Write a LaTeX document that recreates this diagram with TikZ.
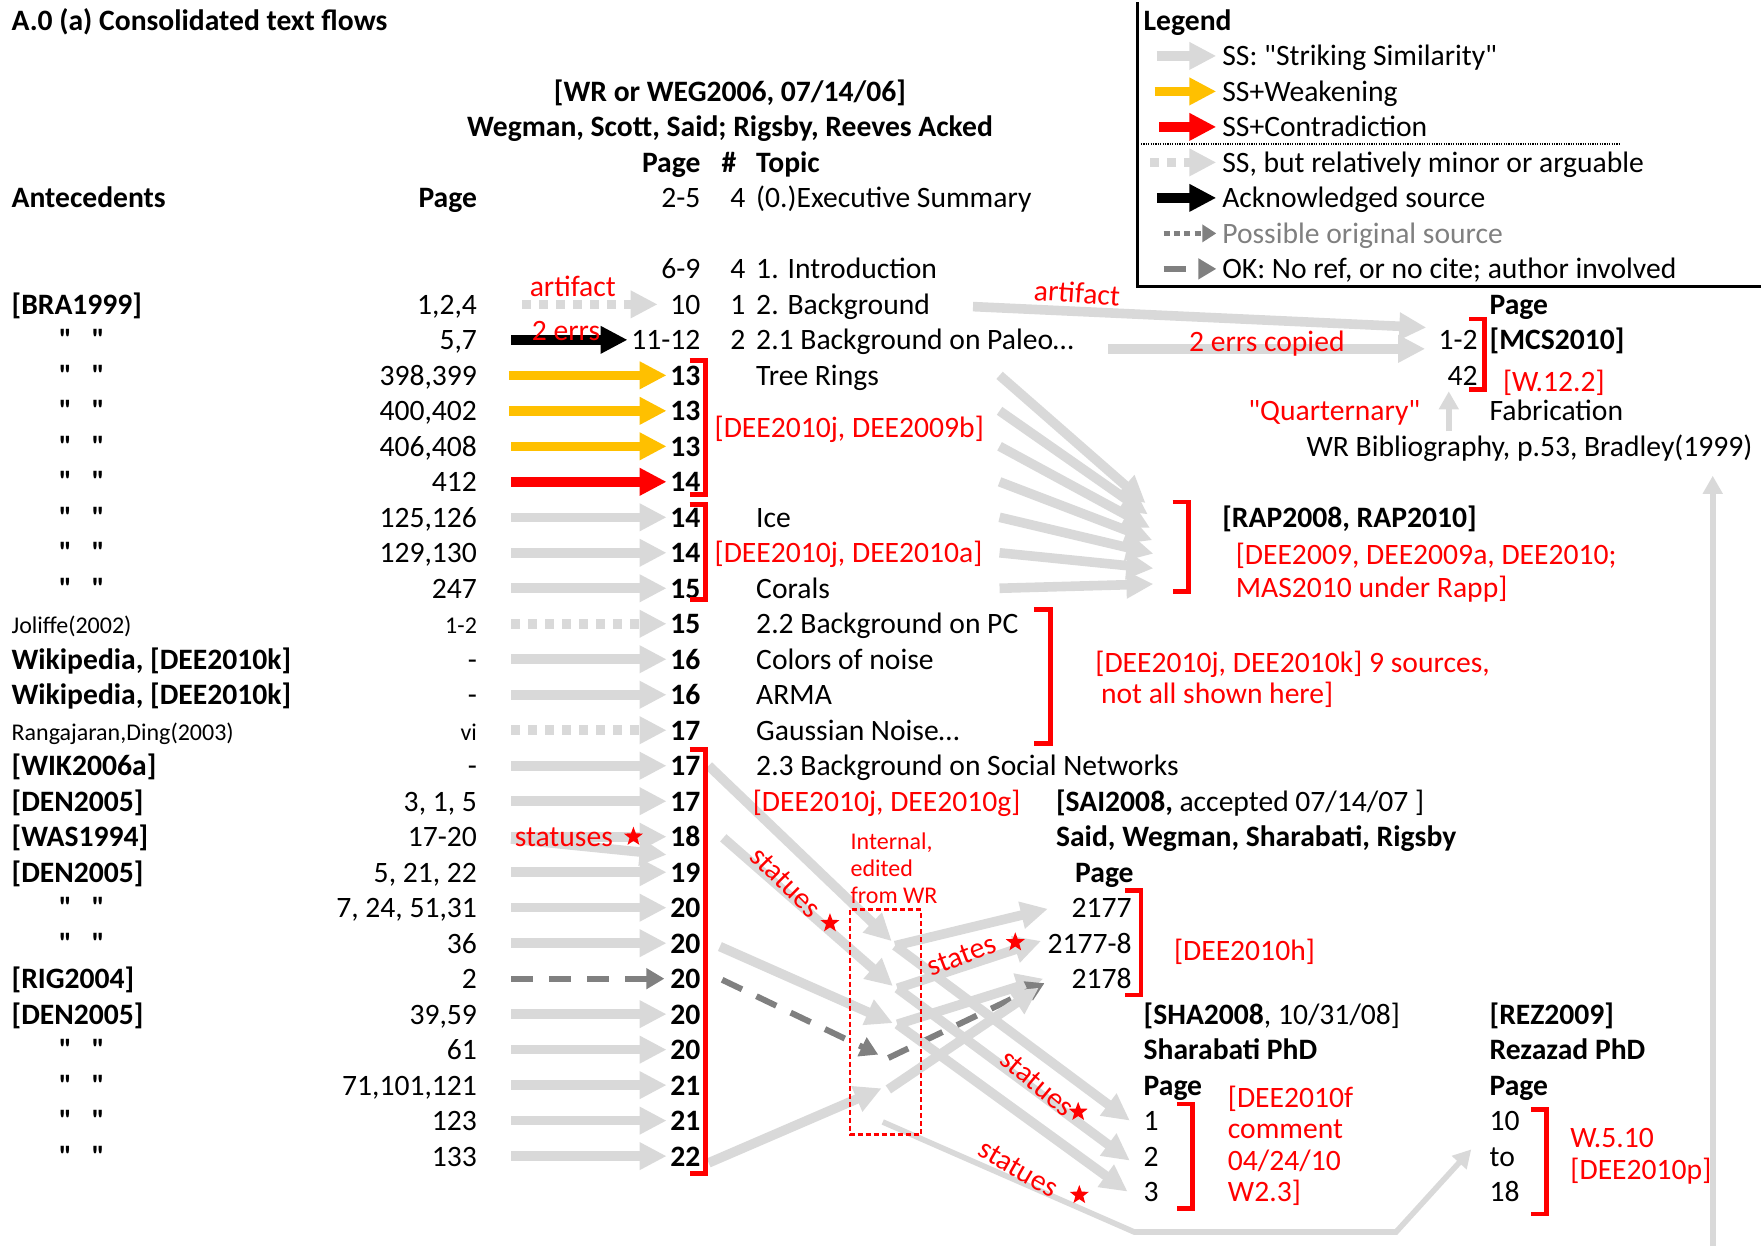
\documentclass[tikz,border=0pt]{standalone}
\usepackage{fontspec}
\setmainfont{Carlito}[Ligatures=TeXOff]
\usetikzlibrary{arrows.meta,calc,shapes.geometric}
\definecolor{ssgray}{HTML}{D9D9D9}
\definecolor{weakorange}{HTML}{FFC000}
\definecolor{okgray}{HTML}{808080}
\newcommand\ry[1]{271+31.6*(#1)}
\newcommand\smallfont{\fontsize{12}{14.4}\selectfont}
\newcommand\redbrk[3]{\draw[brk] ({#1-14},#2) -- (#1,#2) -- (#1,#3) -- ({#1-14},#3);}
\tikzset{
  txt/.style={inner sep=0pt,text height=1.8ex,text depth=0.4ex},
  lft/.style={txt,anchor=west},
  rgt/.style={txt,anchor=east},
  note/.style={txt,text=red},
  fat/.style={line width=4.8pt,-{Triangle[length=13.5pt,width=13pt]}},
  ss/.style={fat,ssgray},
  weak/.style={fat,weakorange},
  contra/.style={fat,red},
  ack/.style={fat,black},
  minor/.style={fat,ssgray,dash pattern=on 4.5pt off 4pt},
  okdash/.style={line width=3pt,okgray,dash pattern=on 11pt off 8pt,-{Triangle[length=9pt,width=10pt]}},
  possible/.style={line width=2.6pt,okgray,dash pattern=on 3pt off 2.2pt,-{Triangle[length=7pt,width=8.5pt]}},
  thinss/.style={line width=2.8pt,ssgray,-{Triangle[length=9pt,width=9.5pt]}},
  brk/.style={draw=red,line width=2.4pt},
  rstar/.style={star,star points=5,star point ratio=2.4,fill=red,inner sep=0pt,minimum size=10pt},
}
\begin{document}
\begin{tikzpicture}[x=0.5615pt,y=-0.5615pt]
\fontsize{14.8}{17.8}\selectfont
\useasboundingbox (0,0) rectangle (1568,1109);
% headings
\node[lft,font=\bfseries] (title) at (10,{\ry{-8}}) {A.0 (a) Consolidated text flows};
\node[txt,font=\bfseries] (wr) at (650,{\ry{-6}}) {[WR or WEG2006, 07/14/06]};
\node[txt,font=\bfseries] (acked) at (650,{\ry{-5}}) {Wegman, Scott, Said; Rigsby, Reeves Acked};
\node[rgt,font=\bfseries] (pgh) at (624,{\ry{-4}}) {Page};
\node[txt,font=\bfseries] (nh) at (649,{\ry{-4}}) {\#};
\node[lft,font=\bfseries] (toph) at (673,{\ry{-4}}) {Topic};
\node[lft,font=\bfseries] (anteh) at (10,{\ry{-3}}) {Antecedents};
\node[rgt,font=\bfseries] (antepg) at (425,{\ry{-3}}) {Page};
\node[rgt] (pes) at (624,{\ry{-3}}) {2-5};
\node[txt] (nes) at (657,{\ry{-3}}) {4};
\node[lft] (tes) at (673,{\ry{-3}}) {(0.)Executive Summary};
\node[rgt] (pin) at (624,{\ry{-1}}) {6-9};
\node[txt] (nin) at (657,{\ry{-1}}) {4};
\node[lft] (tin) at (673,{\ry{-1}}) {1. Introduction};
\node[txt] (n0) at (657,{\ry{0}}) {1};
\node[txt] (n1) at (657,{\ry{1}}) {2};
\foreach \i/\t in {0/2. Background,1/2.1 Background on Paleo…,2/Tree Rings,6/Ice,8/Corals,9/2.2 Background on PC,10/Colors of noise,11/ARMA,12/Gaussian Noise…,13/2.3 Background on Social Networks}
  \node[lft] (t\i) at (673,{\ry{\i}}) {\t};
% antecedents
\foreach \i/\t in {0/{[BRA1999]},10/{Wikipedia, [DEE2010k]},11/{Wikipedia, [DEE2010k]},13/{[WIK2006a]},14/{[DEN2005]},15/{[WAS1994]},16/{[DEN2005]},19/{[RIG2004]},20/{[DEN2005]}}
  \node[lft,font=\bfseries] (s\i) at (10,{\ry{\i}}) {\t};
\node[lft,font=\smallfont] (s9) at (10,{\ry{9}}) {Joliffe(2002)};
\node[lft,font=\smallfont] (s12) at (10,{\ry{12}}) {Rangajaran,Ding(2003)};
\foreach \i in {1,...,8,17,18,21,22,23,24}
  \node[lft,font=\bfseries] (d\i) at (52,{\ry{\i}}) {"\hspace{10pt}"};
\foreach \t [count=\i from 0] in {{1,2,4},{5,7},{398,399},{400,402},{406,408},412,{125,126},{129,130},247,{\smallfont 1-2},-,-,{\smallfont vi},-,{3, 1, 5},17-20,{5, 21, 22},{7, 24, 51,31},36,2,{39,59},61,{71,101,121},123,133}
  \node[rgt] (a\i) at (425,{\ry{\i}}) {\t};
\foreach \t [count=\i from 0] in {10,11-12,13,13,13,14,14,14,15,15,16,16,17,17,17,18,19,20,20,20,20,20,21,21,22}
  \node[rgt] (p\i) at (624,{\ry{\i}}) {\ifnum\i>1 \bfseries\fi\t};
% MCS2010
\node[lft,font=\bfseries] (mpg) at (1326,{\ry{0}}) {Page};
\node[rgt] (m1) at (1316,{\ry{1}}) {1-2};
\node[lft,font=\bfseries] (mcs) at (1326,{\ry{1}}) {[MCS2010]};
\node[rgt] (m2) at (1316,{\ry{2}}) {42};
\node[lft] (fab) at (1326,{\ry{3}}) {Fabrication};
\node[lft] (bib) at (1163,{\ry{4}}) {WR Bibliography, p.53, Bradley(1999)};
% RAP
\node[lft,font=\bfseries] (rap) at (1088,{\ry{6}}) {[RAP2008, RAP2010]};
% SAI2008
\node[lft] (sai) at (940,{\ry{14}}) {\textbf{[SAI2008,} accepted 07/14/07 ]};
\node[lft,font=\bfseries] (saiau) at (940,{\ry{15}}) {Said, Wegman, Sharabati, Rigsby};
\node[lft,font=\bfseries] (saipg) at (957,{\ry{16}}) {Page};
\node[rgt] (j1) at (1008,{\ry{17}}) {2177};
\node[rgt] (j2) at (1008,{\ry{18}}) {2177-8};
\node[rgt] (j3) at (1008,{\ry{19}}) {2178};
% SHA2008
\node[lft] (sha) at (1018,{\ry{20}}) {\textbf{[SHA2008}, 10/31/08]};
\node[lft,font=\bfseries] (shaau) at (1018,{\ry{21}}) {Sharabati PhD};
\node[lft,font=\bfseries] (shapg) at (1018,{\ry{22}}) {Page};
\node[lft] (h1) at (1018,{\ry{23}}) {1};
\node[lft] (h2) at (1018,{\ry{24}}) {2};
\node[lft] (h3) at (1018,{\ry{25}}) {3};
% REZ2009
\node[lft,font=\bfseries] (rez) at (1326,{\ry{20}}) {[REZ2009]};
\node[lft,font=\bfseries] (rezau) at (1326,{\ry{21}}) {Rezazad PhD};
\node[lft,font=\bfseries] (rezpg) at (1326,{\ry{22}}) {Page};
\node[lft] (r1) at (1326,{\ry{23}}) {10};
\node[lft] (r2) at (1326,{\ry{24}}) {to};
\node[lft] (r3) at (1326,{\ry{25}}) {18};
% legend
\draw[line width=1.3pt] (1013,2) -- (1013,255) -- (1568,255);
\node[lft,font=\bfseries] (legend) at (1018,{\ry{-8}}) {Legend};
\node[lft] (l1) at (1088,{\ry{-7}}) {SS: "Striking Similarity"};
\node[lft] (l2) at (1088,{\ry{-6}}) {SS+Weakening};
\node[lft] (l3) at (1088,{\ry{-5}}) {SS+Contradiction};
\node[lft] (l4) at (1088,{\ry{-4}}) {SS, but relatively minor or arguable};
\node[lft] (l5) at (1088,{\ry{-3}}) {Acknowledged source};
\node[lft,text=okgray] (l6) at (1088,{\ry{-2}}) {Possible original source};
\node[lft] (l7) at (1088,{\ry{-1}}) {OK: No ref, or no cite; author involved};
\draw[line width=1pt,dash pattern=on 0.6pt off 0.6pt] (1016,128) -- (1443,128);
\draw[ss] ($(l1.west)+(-58,0)$) -- ($(l1.west)+(-5,0)$);
\draw[weak] ($(l2.west)+(-60,0)$) -- ($(l2.west)+(-5,0)$);
\draw[contra] ($(l3.west)+(-56,0)$) -- ($(l3.west)+(-5,0)$);
\draw[minor] ($(l4.west)+(-64,0)$) -- ($(l4.west)+(-5,0)$);
\draw[ack] ($(l5.west)+(-58,0)$) -- ($(l5.west)+(-5,0)$);
\draw[possible] ($(l6.west)+(-52,0)$) -- ($(l6.west)+(-5,0)$);
\draw[okdash,dash pattern=on 11pt off 20pt] ($(l7.west)+(-52,0)$) -- ($(l7.west)+(-5,0)$);
% row arrows
\foreach \st/\sx/\gx [count=\i from 0] in {minor/40/11,ack/30/3,weak/28/3,weak/28/3,weak/30/3,contra/30/3,ss/30/3,ss/30/3,ss/30/3,minor/30/3,ss/30/3,ss/30/3,minor/30/3,ss/30/3,ss/30/3,ss/30/3,ss/30/3,ss/30/3,ss/30/3,okdash/30/5,ss/30/3,ss/30/3,ss/30/3,ss/30/3,ss/30/3}
  \draw[\st] ($(a\i.east)+(\sx,0)$) -- ($(p\i.west)+(-\gx,0)$);
\draw[ss] ($(a15.east)+(30,2)$) -- ($(p15.west)+(-3,16)$);
% to MCS2010
\draw[ss] ($(t0.east)+(38,2)$) -- ($(m1.east)+(-46,-11)$);
\draw[ss] ($(t1.east)+(30,8)$) -- ($(m1.east)+(-47,8)$);
\coordinate (bibup) at (1290,384);
\draw[thinss] (bibup) -- (bibup |- m2.south);
\coordinate (bibsrc) at (1525,1109);
\draw[thinss] (bibsrc) -- ($(bibsrc |- bib.south)+(0,12)$);
% fan to RAP
\foreach \i/\tx/\ty in {2/1020/448,3/1022/458,4/1024/470,5/1026/481,6/1027/493,7/1027/506,8/1027/520}
  \draw[ss] (890,{\ry{\i}}) -- (\tx,\ty);
% into the internal box
\coordinate (k1) at (794,838);
\coordinate (k2) at (795,878);
\coordinate (k3) at (795,911);
\coordinate (k4) at (782,939);
\coordinate (k5) at (785,969);
\draw[ss] ($(p13.east)+(7,0)$) -- (k1);
\draw[ss] ($(p15.east)+(20,1)$) -- (k2);
\draw[ss] ($(p18.east)+(17,3)$) -- (k3);
\draw[okdash] ($(p19.east)+(19,1)$) -- (k4);
\draw[ss] ($(p24.east)+(7,6)$) -- (k5);
% out of the internal box
\coordinate (g1) at (797,842);
\coordinate (g2) at (799,880);
\coordinate (g3) at (799,912);
\coordinate (g4) at (791,942);
\coordinate (g5) at (791,970);
\coordinate (g6) at (786,999);
\draw[ss] (g1) -- ($(j1.east)+(-75,1)$);
\draw[ss] (g2) -- ($(j2.east)+(-81,-2)$);
\draw[ss] (g3) -- ($(j3.east)+(-79,0)$);
\draw[okdash] (g4) -- ($(j3.east)+(-78,4)$);
\draw[ss] (g5) -- ($(j3.east)+(-83,8)$);
\draw[ss] (g1) -- ($(h1.west)+(-12,0)$);
\draw[ss] (g2) -- ($(h2.west)+(-12,4)$);
\draw[ss] (g3) -- ($(h3.west)+(-14,0)$);
\coordinate (rzbend1) at (1010,1097);
\coordinate (rzbend2) at (1243,1097);
\draw[thinss] (g6) -- (rzbend1) -- (rzbend2) -- ($(r2.west)+(-16,-6)$);
% brackets
\redbrk{628}{321}{440}
\redbrk{628}{449}{534}
\redbrk{935}{543}{662}
\redbrk{628}{667}{1045}
\redbrk{1322}{284}{347}
\redbrk{1058}{447}{527}
\redbrk{1016}{793}{886}
\redbrk{1062}{983}{1076}
\redbrk{1377}{988}{1081}
\draw[red,line width=1.3pt,dash pattern=on 2.5pt off 1.5pt] (757,810) rectangle (820,1010);
% red notes
\node[note] (art1) at (510,255) {artifact};
\node[note] (errs) at (504,294) {2 errs};
\node[note] (stat0) at (502,{\ry{15}}) {statuses};
\node[rstar] (star0) at (564,{\ry{15}}) {};
\node[note,rotate=-4] (art2) at (959,261) {artifact};
\node[note] (copied) at (1128,304) {2 errs copied};
\node[note,anchor=west] (w122) at (1338,340) {[W.12.2]};
\node[note,anchor=east] (quart) at (1265,{\ry{3}}) {"Quarternary"};
\node[note,anchor=west] (dee1) at (636,381) {[DEE2010j, DEE2009b]};
\node[note,anchor=west] (dee2) at (636,{\ry{7}}) {[DEE2010j, DEE2010a]};
\node[note,anchor=west] (rapn1) at (1100,494) {[DEE2009, DEE2009a, DEE2010;};
\node[note,anchor=west] (rapn2) at (1100,523) {MAS2010 under Rapp]};
\node[note,anchor=west] (dee3) at (975,590) {[DEE2010j, DEE2010k] 9 sources,};
\node[note,anchor=west] (dee3b) at (980,618) {not all shown here]};
\node[note,anchor=west] (dee4) at (670,{\ry{14}}) {[DEE2010j, DEE2010g]};
\node[note,anchor=west,font=\smallfont] (intl1) at (757,748) {Internal,};
\node[note,anchor=west,font=\smallfont] (intl2) at (757,772) {edited};
\node[note,anchor=west,font=\smallfont] (intl3) at (757,796) {from WR};
\node[note,anchor=west] (deeh) at (1045,846) {[DEE2010h]};
\node[note,anchor=west] (deef1) at (1093,977) {[DEE2010f};
\node[note,anchor=west] (deef2) at (1093,1005) {comment};
\node[note,anchor=west] (deef3) at (1093,1033) {04/24/10};
\node[note,anchor=west] (deef4) at (1093,1061) {W2.3]};
\node[note,anchor=west] (deep1) at (1398,1013) {W.5.10};
\node[note,anchor=west] (deep2) at (1398,1041) {[DEE2010p]};
\node[note,rotate=-45] (stat1) at (700,785) {statues};
\node[rstar] (star1) at (739,822) {};
\node[note,rotate=21] (stat2) at (856,850) {states};
\node[rstar] (star2) at (904,839) {};
\node[note,rotate=-40] (stat3) at (924,964) {statues};
\node[rstar] (star3) at (960,990) {};
\node[note,rotate=-30] (stat4) at (907,1040) {statues};
\node[rstar] (star4) at (961,1064) {};
\end{tikzpicture}
\end{document}
